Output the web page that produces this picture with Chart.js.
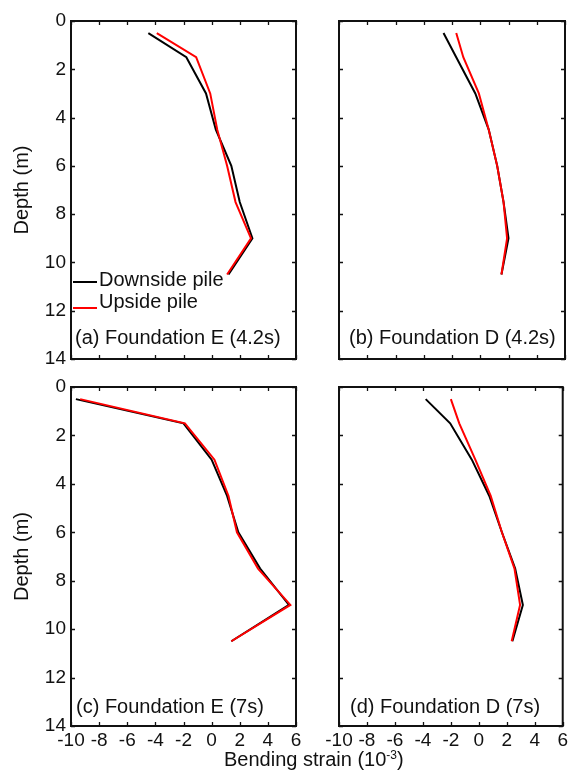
<!DOCTYPE html>
<html>
<head>
<meta charset="utf-8">
<script src="https://cdn.jsdelivr.net/npm/chart.js@4/dist/chart.umd.min.js"></script>
<style>
  body { margin: 0; background: #fff; width: 571px; height: 774px; position: relative; overflow: hidden; }
  canvas { position: absolute; }
  #xtitle { position: absolute; left: 224px; top: 747px; font: 20px "Liberation Sans", Arial, sans-serif; color: #111; white-space: nowrap; line-height: 24px; }
  #xtitle sup { font-size: 12px; vertical-align: 7px; line-height: 0; }
</style>
</head>
<body>
<canvas id="chartA" width="310" height="380" style="left:0;top:0"></canvas>
<canvas id="chartB" width="241" height="380" style="left:330px;top:0"></canvas>
<canvas id="chartC" width="310" height="408" style="left:0;top:366px"></canvas>
<canvas id="chartD" width="261" height="408" style="left:310px;top:366px"></canvas>
<div id="xtitle">Bending strain (10<sup>-3</sup>)</div>
<script>
// depth of the strain gauges (m)
const depths = [0.5, 1.5, 3, 4.5, 6, 7.5, 9, 10.5];

// bending strain (10^-3)
const downE42 = [-4.5, -1.8, -0.4, 0.3, 1.4, 2.0, 2.9, 1.2];
const upE42   = [-3.9, -1.1, -0.1, 0.4, 1.1, 1.7, 2.8, 1.1];
const downD42 = [-2.6, -1.7, -0.35, 0.6, 1.2, 1.65, 2.0, 1.5];
const upD42   = [-1.7, -1.2, -0.1, 0.6, 1.2, 1.65, 1.9, 1.5];
const downE7  = [-9.65, -2.0, 0.0, 1.1, 1.9, 3.45, 5.5, 1.4];
const upE7    = [-9.35, -1.9, 0.2, 1.2, 1.8, 3.3, 5.6, 1.4];
const downD7  = [-3.8, -2.05, -0.5, 0.75, 1.65, 2.6, 3.15, 2.4];
const upD7    = [-2.0, -1.4, -0.25, 0.85, 1.65, 2.55, 2.95, 2.35];

const seriesNames = ['Downside pile', 'Upside pile'];
const seriesColors = ['#000000', '#ff0000'];
const panelTitles = ['(a) Foundation E (4.2s)', '(b) Foundation D (4.2s)', '(c) Foundation E (7s)', '(d) Foundation D (7s)'];

const FONT = '"Liberation Sans", Arial, sans-serif';

// frame round the plot with inward ticks on all four sides
const frameTicks = {
  id: 'frameTicks',
  afterDraw(chart) {
    const ctx = chart.ctx;
    const a = chart.chartArea;
    const xs = chart.scales.x, ys = chart.scales.y;
    const len = 4;
    ctx.save();
    ctx.strokeStyle = '#111';
    ctx.lineWidth = 1.3;
    ctx.beginPath();
    xs.ticks.forEach(t => {
      const px = Math.round(xs.getPixelForValue(t.value)) + 0.5;
      ctx.moveTo(px, a.top); ctx.lineTo(px, a.top + len);
      ctx.moveTo(px, a.bottom); ctx.lineTo(px, a.bottom - len);
    });
    ys.ticks.forEach(t => {
      const py = Math.round(ys.getPixelForValue(t.value)) + 0.5;
      ctx.moveTo(a.left, py); ctx.lineTo(a.left + len, py);
      ctx.moveTo(a.right, py); ctx.lineTo(a.right - len, py);
    });
    ctx.stroke();
    ctx.lineWidth = 2;
    ctx.strokeRect(a.left, a.top, a.right - a.left, a.bottom - a.top);
    ctx.restore();
  }
};

// panel caption and (optionally) the legend, drawn inside the plot area
const insideText = {
  id: 'insideText',
  afterDraw(chart, args, opts) {
    const ctx = chart.ctx;
    const a = chart.chartArea;
    ctx.save();
    ctx.font = '20px ' + FONT;
    ctx.fillStyle = '#111';
    ctx.textBaseline = 'middle';
    ctx.textAlign = 'left';
    ctx.fillText(opts.title, a.left + opts.titleDx, a.bottom - opts.titleDy);
    if (opts.legend) {
      const textY = [259, 281];
      const lineY = [261, 287];
      chart.data.datasets.forEach((ds, i) => {
        ctx.strokeStyle = ds.borderColor;
        ctx.lineWidth = 2;
        ctx.beginPath();
        ctx.moveTo(a.left + 2, a.top + lineY[i]);
        ctx.lineTo(a.left + 26, a.top + lineY[i]);
        ctx.stroke();
        ctx.fillText(ds.label, a.left + 28, a.top + textY[i]);
      });
    }
    ctx.restore();
  }
};

function makePoints(xs) {
  return xs.map((v, i) => ({ x: v, y: depths[i] }));
}

function makeChart(id, down, up, opt) {
  const ctx = document.getElementById(id).getContext('2d');
  return new Chart(ctx, {
    type: 'scatter',
    data: {
      datasets: [
        { label: seriesNames[0], data: makePoints(down), borderColor: seriesColors[0], order: 1 },
        { label: seriesNames[1], data: makePoints(up), borderColor: seriesColors[1], order: 0 }
      ]
    },
    options: {
      responsive: false,
      animation: false,
      showLine: true,
      elements: {
        line: { borderWidth: 2, tension: 0, fill: false },
        point: { radius: 0, hoverRadius: 0 }
      },
      layout: { padding: opt.padding },
      scales: {
        x: {
          type: 'linear', min: -10, max: 6,
          grid: { display: false, drawTicks: false }, border: { display: false },
          ticks: { display: opt.xLabels, stepSize: 2, autoSkip: false, maxRotation: 0, padding: 3,
                   color: '#111', font: { family: FONT, size: 19 } },
          afterFit: s => { s.height = opt.xHeight; }
        },
        y: {
          type: 'linear', min: 0, max: 14, reverse: true,
          grid: { display: false, drawTicks: false }, border: { display: false },
          ticks: { display: opt.yLabels, stepSize: 2, autoSkip: false, padding: 5,
                   color: '#111', font: { family: FONT, size: 19 } },
          title: { display: opt.yLabels, text: 'Depth (m)', color: '#111',
                   font: { family: FONT, size: 20 }, padding: { top: 10, bottom: 0 } },
          afterFit: s => { s.width = opt.yWidth; }
        }
      },
      plugins: {
        legend: { display: false },
        tooltip: { enabled: false },
        insideText: opt.text
      }
    },
    plugins: [frameTicks, insideText]
  });
}

document.addEventListener('DOMContentLoaded', () => {
  makeChart('chartA', downE42, upE42, {
    padding: { top: 21, right: 14, bottom: 21, left: 0 },
    xLabels: false, yLabels: true, xHeight: 0, yWidth: 71,
    text: { title: panelTitles[0], titleDx: 4, titleDy: 21, legend: true }
  });
  makeChart('chartB', downD42, upD42, {
    padding: { top: 21, right: 6, bottom: 21, left: 0 },
    xLabels: false, yLabels: false, xHeight: 0, yWidth: 9,
    text: { title: panelTitles[1], titleDx: 10, titleDy: 21, legend: false }
  });
  makeChart('chartC', downE7, upE7, {
    padding: { top: 21, right: 14, bottom: 0, left: 0 },
    xLabels: true, yLabels: true, xHeight: 48, yWidth: 71,
    text: { title: panelTitles[2], titleDx: 5, titleDy: 19, legend: false }
  });
  makeChart('chartD', downD7, upD7, {
    padding: { top: 21, right: 6, bottom: 0, left: 0 },
    xLabels: true, yLabels: false, xHeight: 48, yWidth: 29,
    text: { title: panelTitles[3], titleDx: 11, titleDy: 19, legend: false }
  });
});
</script>
</body>
</html>
